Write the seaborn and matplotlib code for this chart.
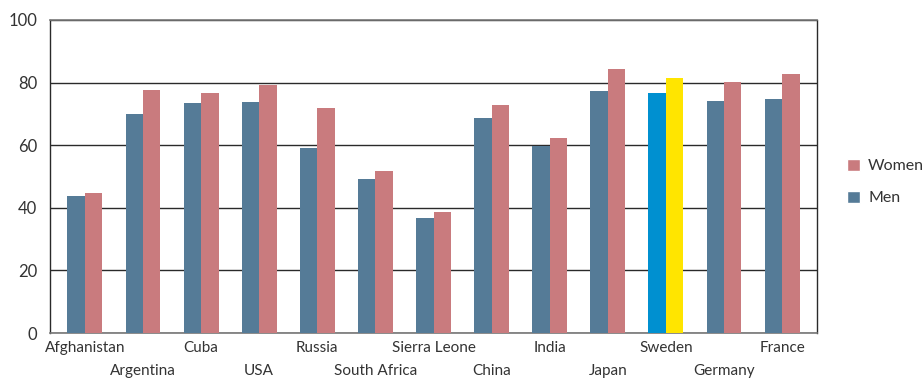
import matplotlib
matplotlib.use("Agg")
import matplotlib.pyplot as plt
import seaborn as sns
import pandas as pd
from matplotlib.patches import Patch

countries = ["Afghanistan", "Argentina", "Cuba", "USA", "Russia", "South Africa",
             "Sierra Leone", "China", "India", "Japan", "Sweden", "Germany", "France"]
men = [43.9, 69.9, 73.4, 73.7, 59.1, 49.3, 36.6, 68.6, 59.6, 77.2, 76.8, 74.0, 74.9]
women = [44.8, 77.5, 76.8, 79.1, 71.8, 51.8, 38.5, 72.7, 62.3, 84.5, 81.6, 80.3, 82.9]
y_ticks = [0, 20, 40, 60, 80, 100]

men_color = "#557B97"
women_color = "#C97B7E"
highlight = "Sweden"
highlight_colors = {"Men": "#0090D0", "Women": "#FFE500"}

df = pd.DataFrame({
    "country": countries * 2,
    "sex": ["Men"] * len(countries) + ["Women"] * len(countries),
    "years": men + women,
})

sns.set_style("white")
plt.rcParams["font.family"] = ["Lato", "DejaVu Sans"]

fig = plt.figure(figsize=(9.23, 3.79), dpi=100)
ax = fig.add_axes([50 / 923, 1 - 333 / 379, 767 / 923, 313 / 379])

sns.barplot(data=df, x="country", y="years", hue="sex", order=countries,
            hue_order=["Men", "Women"], palette=[men_color, women_color],
            width=0.6, saturation=1, ax=ax, legend=False, zorder=3)

# Recolour the highlighted country's pair of bars
hi = countries.index(highlight)
for p in ax.patches:
    cx = p.get_x() + p.get_width() / 2
    if abs(cx - hi) < 0.5:
        p.set_facecolor(highlight_colors["Men"] if cx < hi else highlight_colors["Women"])
    p.set_edgecolor("none")

ax.set_xlim(-0.6, len(countries) - 0.4)
ax.set_ylim(0, 100)
ax.set_yticks(y_ticks)
ax.set_yticklabels([str(v) for v in y_ticks])
ax.yaxis.grid(True, color="#2a2a2a", linewidth=1.0, zorder=0)
ax.set_axisbelow(True)
ax.set_xlabel("")
ax.set_ylabel("")

for side in ["left", "right"]:
    ax.spines[side].set_color("#2a2a2a")
    ax.spines[side].set_linewidth(1.0)
for side in ["top", "bottom"]:
    ax.spines[side].set_color("#777777")
    ax.spines[side].set_linewidth(1.2)

ax.tick_params(axis="both", length=0, colors="#333333")
ax.tick_params(axis="x", labelsize=11)
ax.tick_params(axis="y", pad=9, labelsize=12)
ax.set_xticks(range(len(countries)))
ax.set_xticklabels(countries)
for i, tick in enumerate(ax.xaxis.get_major_ticks()):
    tick.set_pad(6 if i % 2 == 0 else 22)

handles = [Patch(facecolor=women_color, label="Women"),
           Patch(facecolor=men_color, label="Men")]
leg = fig.legend(handles=handles, loc="center left", bbox_to_anchor=(833 / 923, 1 - 182 / 379),
                 frameon=False, fontsize=11.5, handlelength=0.8, handleheight=0.8,
                 handletextpad=0.5, labelspacing=1.1, labelcolor="#333333")

fig.savefig("out.png", dpi=100)
